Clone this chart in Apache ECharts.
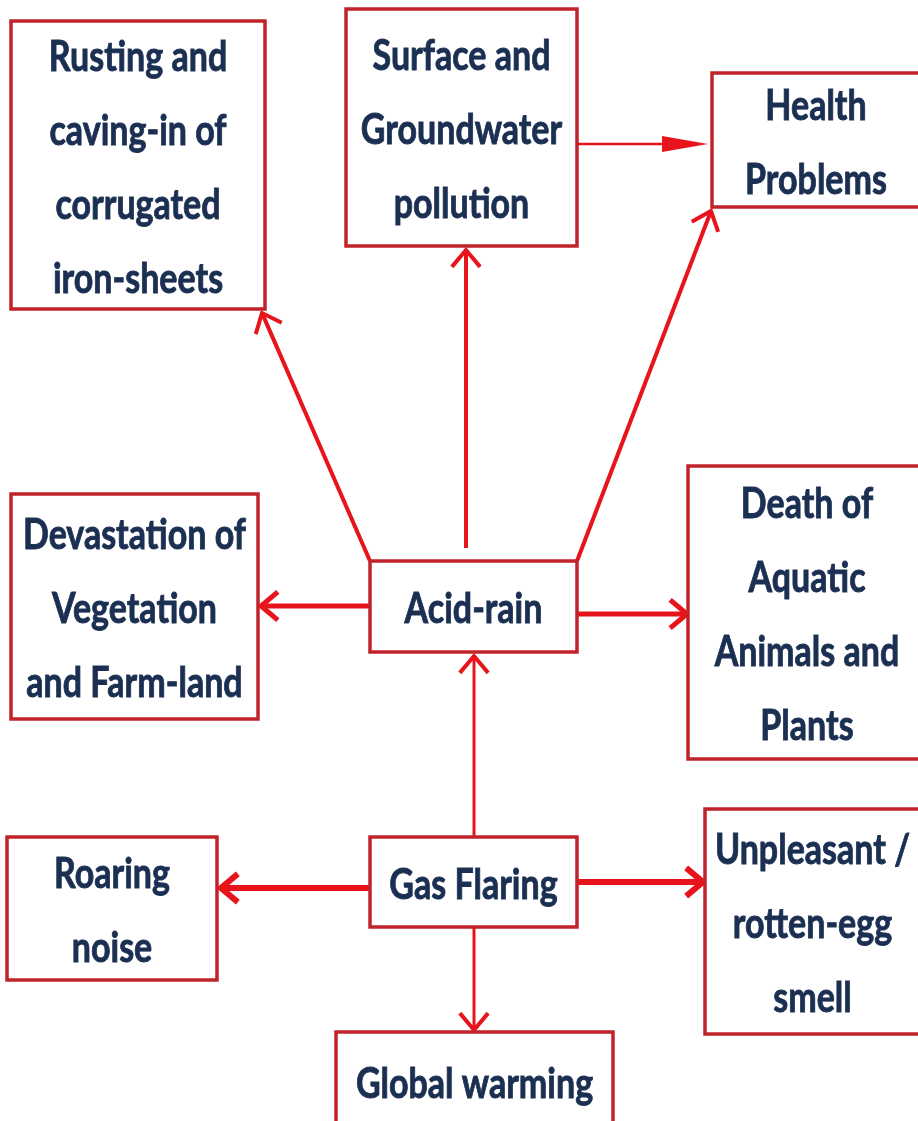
<!DOCTYPE html>
<html>
<head>
<meta charset="utf-8">
<script src="https://cdn.jsdelivr.net/npm/echarts@6/dist/echarts.min.js"></script>
<style>
html,body{margin:0;padding:0;background:#fff;}
#chart{width:918px;height:1121px;}
</style>
</head>
<body>
<div id="chart"></div>
<script>
// ---- content ----
const boxLabels = [
  'Rusting and\ncaving-in of\ncorrugated\niron-sheets',
  'Surface and\nGroundwater\npollution',
  'Health\nProblems',
  'Devastation of\nVegetation\nand Farm-land',
  'Acid-rain',
  'Death of\nAquatic\nAnimals and\nPlants',
  'Roaring\nnoise',
  'Gas Flaring',
  'Unpleasant /\nrotten-egg\nsmell',
  'Global warming'
];
// links: [from, to] (box indices)
const links = [
  [4, 0], [4, 1], [4, 2], [4, 3], [4, 5],
  [7, 4], [7, 6], [7, 8], [7, 9], [1, 2]
];

// ---- layout (diagram units = pixels of the 918x1121 canvas) ----
const boxRects = [
  [11, 21, 265, 309],
  [346, 9, 577, 246],
  [712, 73, 920, 207],
  [11, 494, 258, 719],
  [370, 561, 577, 652],
  [688, 466, 926, 759],
  [7, 837, 217, 980],
  [370, 837, 577, 927],
  [705, 809, 920, 1034],
  [336, 1032, 613, 1130]
];
const arrowPaths = [
  [370, 561, 262, 313],
  [466, 548, 466, 250],
  [577, 561, 711, 211],
  [370, 606, 261, 606],
  [577, 614, 687, 614],
  [474, 837, 474, 656],
  [370, 888, 221, 888],
  [577, 882, 703, 882],
  [474, 927, 474, 1030],
  [576, 144, 708, 144]
];
const arrowWeights = [4, 4, 4, 5, 5, 3, 6, 6, 3, 2.5];
const arrowHeads = ['open','open','open','open','open','open','open','open','open','filled'];

const FONT_FAMILY = "Lato,'Open Sans','Liberation Sans',sans-serif";
const TEXT_COLOR = '#1b2f52';
const BOX_COLOR = '#c1232b';
const ARROW_COLOR = '#e8141c';
const TEXT_SCALE_X = 0.81;

const chart = echarts.init(document.getElementById('chart'), null, {renderer: 'canvas'});

const boxData = boxRects.map((r, i) => ({value: [r[0], r[1], r[2], r[3]], name: boxLabels[i]}));
const arrowData = arrowPaths.map((p, i) => ({value: [p[0], p[1], p[2], p[3]], from: links[i][0], to: links[i][1]}));

function renderBox(params, api) {
  const p0 = api.coord([api.value(0), api.value(1)]);
  const p1 = api.coord([api.value(2), api.value(3)]);
  const x = Math.min(p0[0], p1[0]), y = Math.min(p0[1], p1[1]);
  const w = Math.abs(p1[0] - p0[0]), h = Math.abs(p1[1] - p0[1]);
  const cx = x + w / 2, cy = y + h / 2 + 3;
  return {
    type: 'group',
    children: [
      {type: 'rect', shape: {x: x, y: y, width: w, height: h},
       style: {fill: '#fff', stroke: BOX_COLOR, lineWidth: 3.5}},
      {type: 'text', x: cx, y: cy, scaleX: TEXT_SCALE_X, scaleY: 1,
       style: {text: boxLabels[params.dataIndex], x: 0, y: 0,
               align: 'center', verticalAlign: 'middle',
               fill: TEXT_COLOR, stroke: TEXT_COLOR, lineWidth: 0.9,
               fontSize: 42, fontWeight: 'bold',
               fontFamily: FONT_FAMILY, lineHeight: 74}}
    ]
  };
}

function renderArrow(params, api) {
  const i = params.dataIndex;
  const a = api.coord([api.value(0), api.value(1)]);
  const b = api.coord([api.value(2), api.value(3)]);
  const dx = b[0] - a[0], dy = b[1] - a[1];
  const len = Math.sqrt(dx * dx + dy * dy);
  const ux = dx / len, uy = dy / len;
  const lw = arrowWeights[i];
  const children = [];
  if (arrowHeads[i] === 'filled') {
    const L = 46, W = 8;
    const bx = b[0] - ux * L, by = b[1] - uy * L;
    children.push({type: 'line', shape: {x1: a[0], y1: a[1], x2: bx, y2: by},
      style: {stroke: ARROW_COLOR, lineWidth: lw}});
    children.push({type: 'polygon', shape: {points: [
      [b[0], b[1]], [bx - uy * W, by + ux * W], [bx + uy * W, by - ux * W]]},
      style: {fill: ARROW_COLOR}});
  } else {
    const L = 22, ang = 40 * Math.PI / 180;
    const c = Math.cos(ang), s = Math.sin(ang);
    const r1 = [-(ux * c - uy * s) * L, -(uy * c + ux * s) * L];
    const r2 = [-(ux * c + uy * s) * L, -(uy * c - ux * s) * L];
    children.push({type: 'line', shape: {x1: a[0], y1: a[1], x2: b[0] - ux * 1, y2: b[1] - uy * 1},
      style: {stroke: ARROW_COLOR, lineWidth: lw}});
    children.push({type: 'polyline', shape: {points: [
      [b[0] + r1[0], b[1] + r1[1]], [b[0], b[1]], [b[0] + r2[0], b[1] + r2[1]]]},
      style: {stroke: ARROW_COLOR, lineWidth: Math.max(lw, 4), fill: null, lineJoin: 'miter'}});
  }
  return {type: 'group', children: children};
}

chart.setOption({
  backgroundColor: '#ffffff',
  animation: false,
  grid: {left: 0, right: 0, top: 0, bottom: 0},
  xAxis: {type: 'value', min: 0, max: 918, show: false},
  yAxis: {type: 'value', min: 0, max: 1121, inverse: true, show: false},
  series: [
    {type: 'custom', coordinateSystem: 'cartesian2d', renderItem: renderArrow,
     data: arrowData, clip: false, z: 1, silent: true},
    {type: 'custom', coordinateSystem: 'cartesian2d', renderItem: renderBox,
     data: boxData, clip: false, z: 2, silent: true}
  ]
});
</script>
</body>
</html>
